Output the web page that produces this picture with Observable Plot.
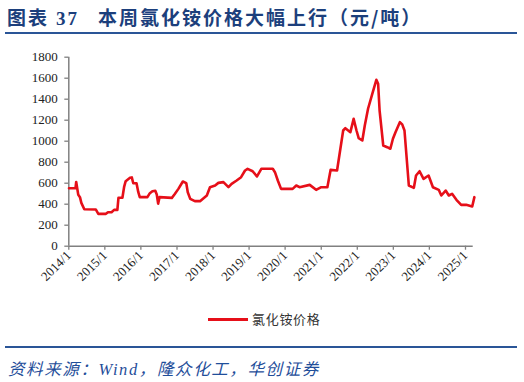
<!DOCTYPE html>
<html>
<head>
<meta charset="utf-8">
<script src="https://cdn.jsdelivr.net/npm/d3@7"></script>
<script src="https://cdn.jsdelivr.net/npm/@observablehq/plot@0.6"></script>
<style>
  body { margin: 0; background: #fff; }
  #wrap { position: relative; width: 524px; height: 382px; background: #fff; overflow: hidden; }
  .abs { position: absolute; white-space: nowrap; }
</style>
</head>
<body>
<div id="wrap">
  <div class="abs" id="title" style="left:7px;top:7px;font-family:'Noto Sans CJK SC';font-weight:700;font-size:19px;line-height:19px;color:#1c3f7c;letter-spacing:2px;">图表<span style="font-family:'Liberation Serif';margin-left:7px;">37</span><span style="margin-left:19px;">本周氯化铵价格大幅上行（元/吨）</span></div>
  <div class="abs" style="left:5px;top:32px;width:512px;height:2px;background:#2a5597;"></div>
  <div class="abs" id="chart" style="left:0;top:40px;"></div>
  <div class="abs" style="left:208px;top:318px;width:40px;height:3px;background:#e60f19;"></div>
  <div class="abs" id="legend" style="left:252px;top:311px;font-family:'Noto Sans CJK SC';font-size:13px;line-height:16px;color:#333;letter-spacing:0.7px;">氯化铵价格</div>
  <div class="abs" style="left:5px;top:346px;width:512px;height:2px;background:#2a5597;"></div>
  <div class="abs" id="source" style="left:8px;top:359px;font-family:'Noto Sans CJK SC';font-style:italic;font-size:16.5px;line-height:18px;color:#1f4e9a;letter-spacing:1.6px;">资料来源：<span style="font-family:'Liberation Serif';">Wind</span>，隆众化工，华创证券</div>
</div>
<script>
// ---- data ----
const dates = [
  "2014-01-03","2014-03-10","2014-03-17","2014-04-07","2014-04-24","2014-05-08","2014-06-07","2014-10-01","2014-10-27",
  "2015-01-12","2015-02-02","2015-03-10","2015-04-05","2015-05-08","2015-05-19","2015-06-28","2015-07-16","2015-07-31",
  "2015-09-13","2015-10-01","2015-10-16","2015-11-18","2015-12-06","2015-12-21",
  "2016-03-07","2016-04-01","2016-04-27","2016-05-26","2016-06-10","2016-06-24","2016-07-08","2016-11-10","2016-12-06",
  "2017-01-15","2017-03-01","2017-04-05","2017-04-20","2017-05-15","2017-07-01","2017-08-22","2017-10-30","2017-12-01",
  "2018-01-22","2018-02-24","2018-04-16","2018-06-06","2018-07-08","2018-08-28","2018-10-12","2018-11-21","2018-12-17",
  "2019-02-06","2019-03-22","2019-05-05","2019-08-29","2019-09-20","2019-10-19","2019-11-21",
  "2020-03-17","2020-04-23","2020-05-26","2020-09-06","2020-11-10",
  "2021-01-01","2021-03-04","2021-04-06","2021-06-10","2021-08-11","2021-09-02","2021-10-23","2021-11-25","2021-12-24",
  "2022-01-15","2022-02-21","2022-03-18","2022-04-20","2022-06-07","2022-07-13","2022-07-31","2022-08-15","2022-09-21",
  "2022-10-31","2022-12-02","2022-12-28",
  "2023-01-23","2023-03-08","2023-04-01","2023-04-24","2023-06-07","2023-07-28","2023-08-19","2023-09-24","2023-11-03","2023-12-24",
  "2024-02-06","2024-04-05","2024-05-01","2024-06-14","2024-07-16","2024-08-18","2024-10-01","2024-11-18",
  "2025-01-08","2025-03-10","2025-04-01"
];
const prices = [
  552,552,612,489,467,413,352,350,308,
  308,324,324,346,346,461,461,568,619,
  651,655,600,600,514,467,
  467,505,524,528,492,405,467,460,492,
  546,616,600,514,451,429,429,483,562,
  578,603,610,562,594,626,657,721,737,
  714,664,737,737,705,626,546,
  546,578,562,584,537,
  562,562,727,721,1102,1124,1086,1213,1102,
  1029,1007,1150,1309,1467,1585,1547,1292,959,
  943,928,1023,
  1086,1181,1160,1102,578,556,673,714,641,673,
  562,537,483,530,483,499,442,394,
  394,378,467
];
const xTickLabels = ["2014/1","2015/1","2016/1","2017/1","2018/1","2019/1","2020/1","2021/1","2022/1","2023/1","2024/1","2025/1"];
const yTicks = [0,200,400,600,800,1000,1200,1400,1600,1800];
const seriesName = "氯化铵价格";

// ---- build ----
const parse = d3.utcParse("%Y-%m-%d");
const rows = dates.map((d, i) => ({date: parse(d), price: prices[i], series: seriesName}));
const xTicks = xTickLabels.map(s => { const [y, m] = s.split("/"); return new Date(Date.UTC(+y, +m - 1, 1)); });
const labelOf = new Map(xTicks.map((t, i) => [+t, xTickLabels[i]]));
const xStart = xTicks[0];
const xEnd = new Date(Date.UTC(2025, 2, 20));

const chart = Plot.plot({
  width: 524,
  height: 260,
  marginLeft: 68.3,
  marginRight: 51.3,
  marginTop: 16.7,
  marginBottom: 54.3,
  style: {background: "transparent", fontFamily: "'Liberation Serif', 'Times New Roman', serif", fontSize: "13px", color: "#222"},
  x: {type: "utc", domain: [xStart, xEnd], label: null},
  y: {domain: [0, 1800], label: null},
  marks: [
    Plot.axisY({ticks: yTicks, tickFormat: d => String(d), tickSize: 4, tickPadding: 7, stroke: "#808080", strokeWidth: 1.3, fill: "#222", label: null}),
    Plot.axisX({ticks: xTicks, tickFormat: d => labelOf.get(+d), tickRotate: -45, tickSize: 4, tickPadding: 3, stroke: "#808080", strokeWidth: 1.3, fill: "#222", label: null}),
    Plot.ruleX([xStart], {stroke: "#808080", strokeWidth: 1.5}),
    Plot.ruleY([0], {stroke: "#808080", strokeWidth: 1.5}),
    Plot.line(rows, {x: "date", y: "price", stroke: "#e60f19", strokeWidth: 2.6, strokeLinejoin: "round", strokeLinecap: "round"})
  ]
});
document.getElementById("chart").appendChild(chart);
</script>
</body>
</html>
